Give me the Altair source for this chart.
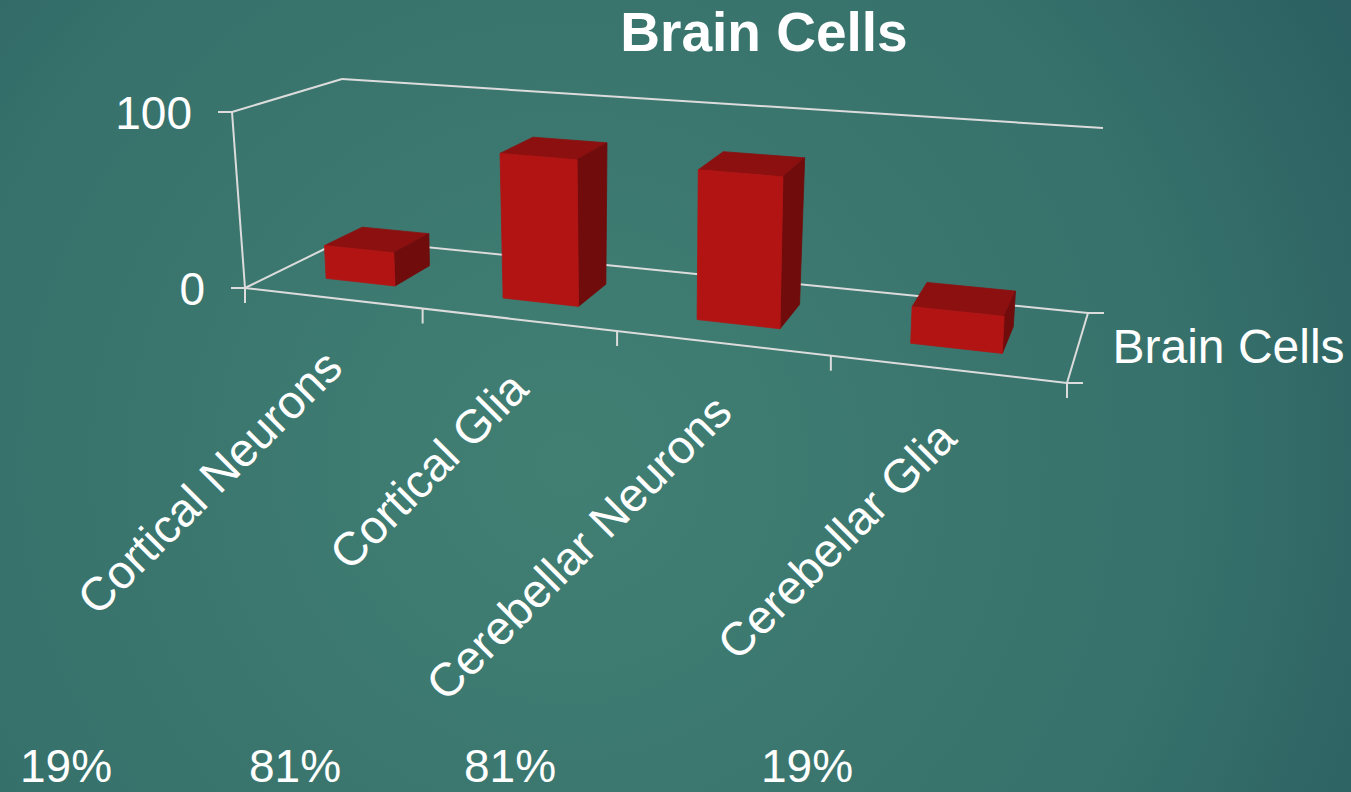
import altair as alt
import pandas as pd

# ---------------- chart data ----------------
categories = ["Cortical Neurons", "Cortical Glia", "Cerebellar Neurons", "Cerebellar Glia"]
values = [19, 81, 81, 19]
series_name = "Brain Cells"
value_ticks = [0, 100]
title_text = "Brain Cells"

# ---------------- layout / style ----------------
W, H = 1351, 792
FONT = "Liberation Sans"
VMAX = 100
# projected corners of the plot box: floor (value 0) and ceiling (value VMAX)
FLOOR = {"fl": (245, 288), "fr": (1067, 383), "bl": (345, 239), "br": (1088, 313)}
CEIL = {"fl": (232, 112), "fr": (1077, 180), "bl": (342, 79), "br": (1103, 128)}
PERSPECTIVE = -0.173          # foreshortening along the category axis
BAR_X = (0.30, 0.70)          # bar extent inside its category slot
BAR_Z = (0.31, 0.70)          # bar extent in depth
TICK = 14
FACE_COLORS = {"front": "#b21414", "top": "#8c1010", "side": "#700c0c"}
LINE_COLOR = "#dcdcdc"
PCT_X = [66, 295, 510, 807]
PCT_BOTTOM = 792


def lerp(a, b, t):
    return (a[0] + (b[0] - a[0]) * t, a[1] + (b[1] - a[1]) * t)


def project(cx, v, z):
    """Map (category position, value, depth) to the drawing plane."""
    s = cx / len(categories)
    t = s * (1 + PERSPECTIVE) / (1 + PERSPECTIVE * s)

    def plane(c):
        return lerp(lerp(c["fl"], c["fr"], t), lerp(c["bl"], c["br"], t), z)

    return lerp(plane(FLOOR), plane(CEIL), v / VMAX)


n = len(categories)

# ---------------- frame lines and ticks ----------------
segments = []


def seg(p, q):
    segments.append({"x": p[0], "y": p[1], "x2": q[0], "y2": q[1]})


seg(project(0, 0, 0), project(0, VMAX, 0))      # value axis
seg(project(0, VMAX, 0), project(0, VMAX, 1))   # side wall gridline
seg(project(0, VMAX, 1), project(n, VMAX, 1))   # back wall gridline
seg(project(0, 0, 0), project(0, 0, 1))         # floor, left edge
seg(project(0, 0, 1), project(n, 0, 1))         # floor, back edge
seg(project(0, 0, 0), project(n, 0, 0))         # floor, front edge
seg(project(n, 0, 0), project(n, 0, 1))         # floor, right edge
for v in value_ticks:
    p = project(0, v, 0)
    seg((p[0] - TICK, p[1]), p)
for k in range(n + 1):
    p = project(k, 0, 0)
    seg(p, (p[0], p[1] + TICK + 1))
for z in (0, 1):
    p = project(n, 0, z)
    seg(p, (p[0] + TICK + 2, p[1]))
frame_df = pd.DataFrame(segments)

# ---------------- bar faces ----------------
rows = []
for i, v in enumerate(values):
    x0, x1 = i + BAR_X[0], i + BAR_X[1]
    z0, z1 = BAR_Z
    faces = {
        "top": [(x0, v, z0), (x1, v, z0), (x1, v, z1), (x0, v, z1)],
        "side": [(x1, 0, z0), (x1, 0, z1), (x1, v, z1), (x1, v, z0)],
        "front": [(x0, 0, z0), (x1, 0, z0), (x1, v, z0), (x0, v, z0)],
    }
    for name, pts in faces.items():
        pid = f"{i}-{name}"
        for k, pt in enumerate(pts + [pts[0]]):
            px, py = project(*pt)
            rows.append({"poly": pid, "ord": k, "x": px, "y": py,
                         "color": FACE_COLORS[name], "category": categories[i],
                         "value": v})
bars_df = pd.DataFrame(rows)

# ---------------- text ----------------
cat_rows = []
for i, c in enumerate(categories):
    p = project(i + 0.5, 0, 0)
    cat_rows.append({"x": p[0] + 3, "y": p[1] + 62, "label": c})
cat_df = pd.DataFrame(cat_rows)

val_rows = []
for v in value_ticks:
    p = project(0, v, 0)
    val_rows.append({"x": p[0] - TICK - 26, "y": p[1] + 2.5, "label": str(v)})
val_df = pd.DataFrame(val_rows)

a, b = project(n, 0, 0), project(n, 0, 1)
series_df = pd.DataFrame([{"x": (a[0] + b[0]) / 2 + 35, "y": (a[1] + b[1]) / 2 + 1,
                           "label": series_name}])

pct_df = pd.DataFrame({"x": PCT_X, "y": [PCT_BOTTOM] * n,
                       "label": [f"{v}%" for v in values]})

title_df = pd.DataFrame([{"x": 764, "y": 51, "label": title_text}])

# ---------------- encodings ----------------
xs = alt.Scale(domain=[0, W], nice=False, zero=False)
ys = alt.Scale(domain=[0, H], nice=False, zero=False, reverse=True)
X = alt.X("x:Q", scale=xs, axis=None)
Y = alt.Y("y:Q", scale=ys, axis=None)

background = alt.Chart(alt.Data(values=[{}])).mark_rect(
    fill={
        "gradient": "radial",
        "x1": 0.42, "y1": 0.55, "r1": 0,
        "x2": 0.42, "y2": 0.55, "r2": 0.85,
        "stops": [
            {"offset": 0, "color": "#417f73"},
            {"offset": 0.55, "color": "#36716b"},
            {"offset": 1, "color": "#22505a"},
        ],
    }
).encode(x=alt.value(0), x2=alt.value(W), y=alt.value(0), y2=alt.value(H))

frame = alt.Chart(frame_df).mark_rule(color=LINE_COLOR, strokeWidth=2).encode(
    x=X, y=Y, x2="x2:Q", y2="y2:Q"
)

bars = alt.Chart(bars_df).mark_line(filled=True, strokeWidth=0.8, strokeJoin="round").encode(
    x=X, y=Y,
    order="ord:Q",
    detail="poly:N",
    fill=alt.Fill("color:N", scale=None),
    stroke=alt.Stroke("color:N", scale=None),
    tooltip=["category:N", "value:Q"],
)

cat_text = alt.Chart(cat_df).mark_text(
    angle=315, align="right", baseline="middle", font=FONT, fontSize=47, color="white"
).encode(x=X, y=Y, text="label:N")

val_text = alt.Chart(val_df).mark_text(
    align="right", baseline="middle", font=FONT, fontSize=46, color="white"
).encode(x=X, y=Y, text="label:N")

series_text = alt.Chart(series_df).mark_text(
    align="left", baseline="middle", font=FONT, fontSize=48, color="white"
).encode(x=X, y=Y, text="label:N")

pct_text = alt.Chart(pct_df).mark_text(
    align="center", baseline="bottom", font=FONT, fontSize=46, color="white"
).encode(x=X, y=Y, text="label:N")

title = alt.Chart(title_df).mark_text(
    align="center", baseline="alphabetic", font=FONT, fontSize=55,
    fontWeight="bold", color="white"
).encode(x=X, y=Y, text="label:N")

chart = alt.layer(
    background, frame, bars, cat_text, val_text, series_text, pct_text, title
).properties(
    width=W, height=H, padding=0, autosize="none", background="#2f6b66"
).configure_view(stroke=None)

chart.save("out.html", embed_options={"renderer": "svg", "actions": False})
